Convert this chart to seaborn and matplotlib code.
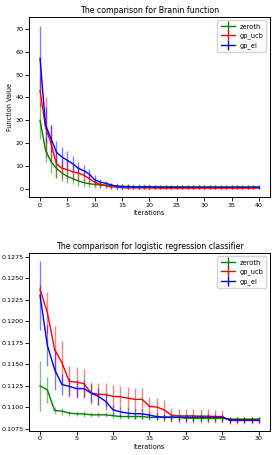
import matplotlib.pyplot as plt
import pandas as pd
import seaborn as sns
from matplotlib.lines import Line2D

# ---------------- data ----------------
methods = ['zeroth', 'gp_ucb', 'gp_ei']
colors = {'zeroth': 'green', 'gp_ucb': 'red', 'gp_ei': 'blue'}

branin_iters = list(range(41))
branin_zeroth = [30, 17, 12, 9, 7, 5.5, 4.5, 3.5, 2.8, 2.3, 2.0, 1.8, 1.6, 1.4, 1.3, 1.2,
                 1.1, 1.0, 1.0, 1.0, 1.0, 0.9, 0.9, 0.9, 0.9, 0.9, 0.9, 0.9, 0.8, 0.8, 0.8,
                 0.8, 0.8, 0.8, 0.8, 0.8, 0.8, 0.8, 0.8, 0.8, 0.8]
branin_zeroth_err = [8, 5, 5, 4, 3.5, 3, 2.5, 2, 1.8, 1.6, 1.5, 1.4, 1.3, 1.3, 1.2, 1.2,
                     1.1, 1.1, 1.1, 1.1, 1.0, 1.0, 1.0, 1.0, 1.0, 1.0, 1.0, 1.0, 1.0, 1.0, 1.0,
                     1.0, 1.0, 1.0, 1.0, 1.0, 1.0, 1.0, 1.0, 1.0, 1.0]
branin_ucb = [43, 27, 20, 11, 9, 8.5, 7.5, 7, 6, 4.5, 3, 2, 1.5, 1.0, 0.8, 0.6,
              0.5, 0.5, 0.5, 0.5, 0.5, 0.4, 0.4, 0.4, 0.4, 0.4, 0.4, 0.4, 0.4, 0.4, 0.4,
              0.4, 0.4, 0.4, 0.4, 0.4, 0.4, 0.4, 0.4, 0.4, 0.4]
branin_ucb_err = [7, 13, 8, 6, 4, 4, 3.5, 3, 2.5, 2, 1.5, 1.2, 1.0, 0.8, 0.7, 0.6,
                  0.5, 0.5, 0.5, 0.5, 0.5, 0.5, 0.5, 0.5, 0.5, 0.5, 0.5, 0.5, 0.5, 0.5, 0.5,
                  0.5, 0.5, 0.5, 0.5, 0.5, 0.5, 0.5, 0.5, 0.5, 0.5]
branin_ei = [57, 28, 22, 16, 14, 12.5, 11, 9, 8, 6.5, 4, 3, 2.5, 1.8, 1.2, 1.0,
             1.0, 0.9, 0.9, 0.9, 0.9, 0.9, 0.8, 0.8, 0.8, 0.8, 0.8, 0.8, 0.8, 0.8, 0.8,
             0.8, 0.8, 0.8, 0.8, 0.8, 0.8, 0.8, 0.8, 0.8, 0.8]
branin_ei_err = [14, 8, 6, 5, 4.5, 4, 3.5, 3, 2.5, 2.3, 2, 1.5, 1.2, 1.0, 1.0, 1.0,
                 1.0, 1.0, 1.0, 1.0, 1.0, 1.0, 1.0, 1.0, 1.0, 1.0, 1.0, 1.0, 1.0, 1.0, 1.0,
                 1.0, 1.0, 1.0, 1.0, 1.0, 1.0, 1.0, 1.0, 1.0, 1.0]

logreg_iters = list(range(31))
logreg_zeroth = [0.11245, 0.1120, 0.1096, 0.10953, 0.1093, 0.10922, 0.1092, 0.1091, 0.1091, 0.1091,
                 0.1090, 0.1089, 0.1089, 0.1089, 0.1089, 0.1088, 0.1088, 0.1088, 0.1088, 0.1088,
                 0.1087, 0.1087, 0.1087, 0.1087, 0.1087, 0.1087, 0.1086, 0.1086, 0.1086, 0.1086,
                 0.1086]
logreg_zeroth_err = [0.0029, 0.0015, 0.0004, 0.0004, 0.0003, 0.0003, 0.0003, 0.0003, 0.0003, 0.0003,
                     0.0003, 0.0003, 0.0003, 0.0003, 0.0003, 0.0003, 0.0003, 0.0003, 0.0003, 0.0003,
                     0.0003, 0.0003, 0.0003, 0.0003, 0.0003, 0.0003, 0.0003, 0.0003, 0.0003, 0.0003,
                     0.0003]
logreg_ucb = [0.1237, 0.1210, 0.1167, 0.11516, 0.1130, 0.1129, 0.11273, 0.11164, 0.1115, 0.11145,
              0.11125, 0.1112, 0.11105, 0.1109, 0.1109, 0.11008, 0.1100, 0.10969, 0.10906, 0.10898,
              0.10898, 0.10898, 0.10895, 0.10895, 0.1089, 0.1089, 0.10844, 0.10844, 0.10844, 0.10844,
              0.10844]
logreg_ucb_err = [0.0005, 0.0024, 0.0027, 0.0025, 0.0018, 0.0018, 0.0017, 0.0013, 0.0013, 0.0013,
                  0.0013, 0.0013, 0.0013, 0.0013, 0.0013, 0.0011, 0.0011, 0.0011, 0.0008, 0.0008,
                  0.0008, 0.0008, 0.0008, 0.0008, 0.0008, 0.0008, 0.0004, 0.0004, 0.0004, 0.0004,
                  0.0004]
logreg_ei = [0.1230, 0.1172, 0.11437, 0.11262, 0.11242, 0.11215, 0.11215, 0.11164, 0.11125, 0.11066,
             0.10969, 0.10945, 0.1093, 0.10922, 0.10922, 0.10906, 0.1089, 0.10883, 0.10883, 0.10883,
             0.10883, 0.10883, 0.10883, 0.10883, 0.10883, 0.10883, 0.1085, 0.1085, 0.1085, 0.1085,
             0.1085]
logreg_ei_err = [0.0040, 0.0024, 0.0024, 0.0012, 0.0010, 0.0010, 0.0010, 0.0010, 0.0010, 0.0010,
                 0.0006, 0.0006, 0.0006, 0.0006, 0.0006, 0.0004, 0.0004, 0.0004, 0.0004, 0.0004,
                 0.0004, 0.0004, 0.0004, 0.0004, 0.0004, 0.0004, 0.0003, 0.0003, 0.0003, 0.0003,
                 0.0003]


def to_frame(iters, means, errs):
    frames = []
    for name, m, e in zip(methods, means, errs):
        frames.append(pd.DataFrame({'iter': iters, 'value': m, 'err': e, 'method': name}))
    return pd.concat(frames, ignore_index=True)


branin = to_frame(branin_iters,
                  [branin_zeroth, branin_ucb, branin_ei],
                  [branin_zeroth_err, branin_ucb_err, branin_ei_err])
logreg = to_frame(logreg_iters,
                  [logreg_zeroth, logreg_ucb, logreg_ei],
                  [logreg_zeroth_err, logreg_ucb_err, logreg_ei_err])

# ---------------- plotting ----------------
plt.rcParams['font.family'] = ['DejaVu Sans']
fig = plt.figure(figsize=(2.72, 4.55), dpi=100)
ax1 = fig.add_axes([0.107, 0.567, 0.885, 0.396])
ax2 = fig.add_axes([0.107, 0.053, 0.885, 0.391])


def draw(ax, df, title, xticks, ylim, ylabel=None):
    for name in methods:
        sub = df[df['method'] == name]
        ax.errorbar(sub['iter'], sub['value'], yerr=sub['err'], fmt='none',
                    ecolor=colors[name], alpha=0.5, elinewidth=1.0)
    sns.lineplot(data=df, x='iter', y='value', hue='method', palette=colors,
                 linewidth=1.0, legend=False, ax=ax)
    handles = [Line2D([], [], color=colors[n], marker='|', markersize=7, linewidth=1.0)
               for n in methods]
    ax.legend(handles, methods, loc='upper right', fontsize=4.8, handlelength=2.2,
              borderpad=0.5, labelspacing=0.45, handletextpad=0.6)
    ax.set_title(title, fontsize=5.7, pad=3)
    ax.set_xlabel('Iterations', fontsize=4.7, labelpad=1.5)
    ax.set_ylabel(ylabel if ylabel else '', fontsize=4.7, labelpad=1.5)
    ax.set_xticks(xticks)
    ax.set_ylim(*ylim)
    ax.tick_params(labelsize=4.6, length=2.8, pad=1.2, width=0.6)
    for s in ax.spines.values():
        s.set_linewidth(0.7)


draw(ax1, branin, 'The comparison for Branin function', list(range(0, 41, 5)),
     (-3.5, 75.2), 'Function Value')
ax1.set_yticks(list(range(0, 71, 10)))
draw(ax2, logreg, 'The comparison for logistic regression classifier', list(range(0, 31, 5)),
     (0.10723, 0.12793))
ax2.set_yticks([0.1075, 0.11, 0.1125, 0.115, 0.1175, 0.12, 0.1225, 0.125, 0.1275])
ax2.yaxis.set_major_formatter(plt.FormatStrFormatter('%.4f'))

plt.savefig('out.png', dpi=100)
